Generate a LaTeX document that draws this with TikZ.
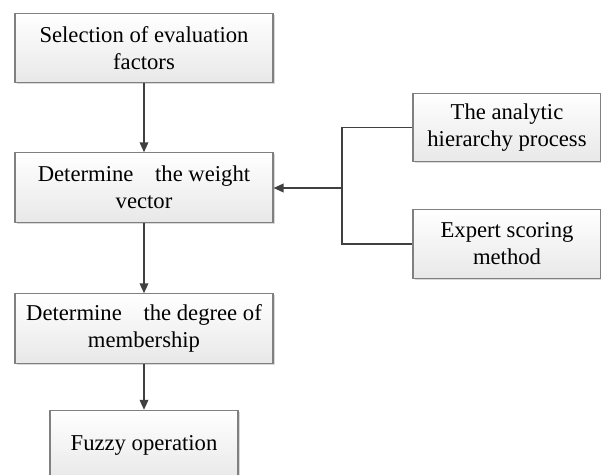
\documentclass[tikz,border=0pt]{standalone}
\usepackage{fontspec}
\setmainfont{Liberation Serif}
\usetikzlibrary{arrows.meta,shadows}
\tikzset{
  stepbox/.style={draw=black!50, line width=0.8pt, top color=white, bottom color=black!9,
    drop shadow={shadow xshift=1.2pt, shadow yshift=-1.2pt, fill=black!25, opacity=0.6},
    align=center, inner sep=0pt, font=\fontsize{17}{20.3}\selectfont},
  widebox/.style={stepbox, minimum width=193.5pt, minimum height=52pt},
  sidebox/.style={stepbox, minimum width=141pt, minimum height=51.5pt},
  link/.style={draw=black!75, line width=1.1pt},
  arr/.style={link, -{Triangle[length=7.5pt,width=6.5pt]}}
}
\begin{document}
\begin{tikzpicture}[x=0.75pt, y=-0.75pt]
    \useasboundingbox (0,0) rectangle (601,475);
    \clip (0,0) rectangle (601,475);
    \node [widebox] (sel) at (144,48) {Selection of evaluation\\factors};
    \node [widebox] (wgt) at (144,187.5) {Determine\hspace{12pt} the weight\\vector};
    \node [widebox] (mem) at (144,328.5) {Determine\hspace{12pt} the degree of\\membership};
    \node [stepbox, minimum width=141pt, minimum height=52pt] (fuz) at (144,445) {Fuzzy operation};
    \node [sidebox] (ahp) at (507,127.5) {The analytic\\hierarchy process};
    \node [sidebox] (exp) at (507,244) {Expert scoring\\method};
    \coordinate (join) at (342,188);
    \draw [arr] (sel) -- (wgt);
    \draw [arr] (wgt) -- (mem);
    \draw [arr] (mem) -- (fuz);
    \draw [link] (ahp.west) -| (join) |- (exp.west);
    \draw [arr] (join) -- (join -| wgt.east);
  \end{tikzpicture}
\end{document}
